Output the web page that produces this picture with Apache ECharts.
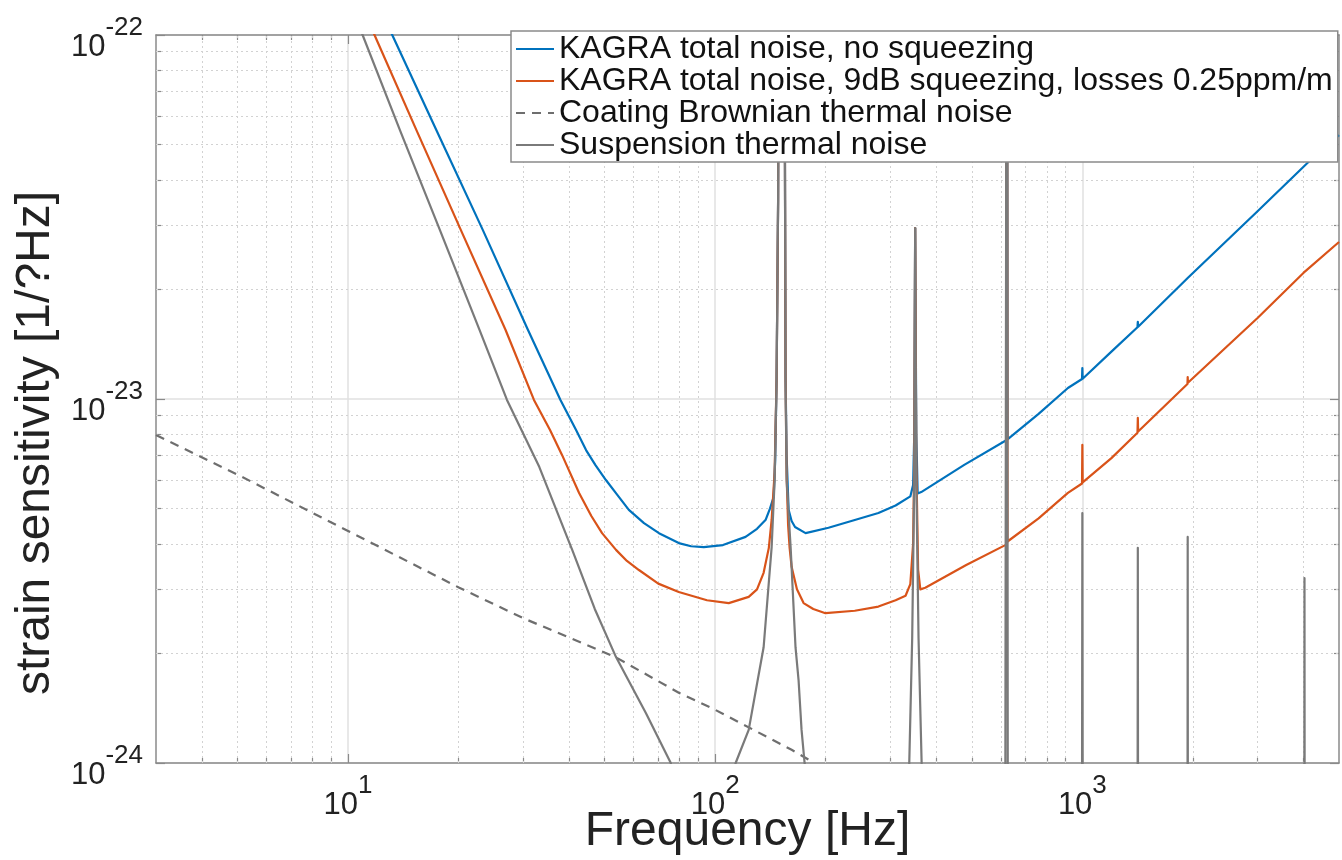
<!DOCTYPE html>
<html><head><meta charset="utf-8">
<script src="https://cdn.jsdelivr.net/npm/echarts@6/dist/echarts.min.js"></script>
<style>html,body{margin:0;padding:0;background:#fff}#c{width:1342px;height:860px}</style>
</head><body><div id="c"></div>
<script>
// ---- data: [frequency in Hz, strain sensitivity in units of 1e-24 /sqrt(Hz)] ----
const UNIT_EXP = -24;
const seriesNames = [
  'KAGRA total noise, no squeezing',
  'KAGRA total noise, 9dB squeezing, losses 0.25ppm/m',
  'Coating Brownian thermal noise',
  'Suspension thermal noise'
];
const noSqueezing = [
  [12.0,123],[13.2,100],[17.4,54.8],[23.3,29.1],[30.9,15.5],[37.9,9.94],[41.8,8.22],[44.5,7.24],
  [47.2,6.58],[50.4,5.99],[54,5.47],[58.2,4.96],[64,4.56],[70.3,4.28],[79.6,4.02],[86,3.94],
  [93.1,3.92],[105,3.97],[121,4.18],[130,4.4],[137.3,4.66],[141,5.0],[144.3,5.38],[145.7,6.8],
  [147.0,11.5],[148.4,35.2],[148.8,100],[151.7,1000],[154.6,100],[155.0,35.2],[155.5,11.5],[156.5,7.0],
  [158.5,4.96],[161.5,4.62],[165,4.45],[176.3,4.28],[203.5,4.43],[240,4.65],[278.3,4.86],[310,5.1],
  [340,5.4],[346,5.8],[348.5,8],[350.5,29.5],[353,8],[356,5.5],[364.1,5.55],[476.8,6.59],
  [620.5,7.7],[623,1000],[625.5,7.75],[760,9.1],[913.4,10.72],[998,11.35],[1000,12.16],[1002,11.37],
  [1200,13.49],[1413,15.75],[1416,16.3],[1419,15.8],[1936,21.5],[3000,32.8],[4102,44.5],[5000,53.1]
];
const squeezed9dB = [
  [11.2,112],[11.81,100],[15.36,54.8],[20.3,29.1],[26.85,15.5],[32.1,9.94],[35.5,8.22],[38.3,7.01],
  [42.6,5.52],[46,4.77],[49.2,4.28],[53.7,3.85],[57.5,3.59],[62.0,3.39],[70,3.11],[79.6,2.95],
  [95,2.8],[108.9,2.75],[123.4,2.86],[130,3.0],[135.5,3.33],[140,3.9],[142.5,4.66],[145.2,6.3],
  [147.0,11.4],[148.4,35.2],[148.8,100],[151.7,1000],[154.6,100],[155.0,35.2],[155.5,11.4],[156.5,6.2],
  [158,4.5],[159.5,3.9],[161.5,3.46],[167,3.0],[174.1,2.75],[185,2.65],[199.7,2.58],[240,2.62],
  [278.3,2.69],[310,2.8],[330,2.88],[340,3.1],[346,4.0],[348.5,6.7],[350.5,29.5],[353,6.7],
  [357,3.4],[362,3.0],[373.4,3.03],[482.7,3.5],[620.5,3.98],[623,1000],[625.5,4.06],[760,4.7],
  [913.4,5.52],[998,5.86],[1000,7.48],[1002,5.9],[1200,6.88],[1413,8.08],[1416,8.87],[1419,8.14],
  [1933,11.0],[1936,11.49],[1939,11.08],[3000,16.7],[4000,22.2],[5000,27.0]
];
const coatingBrownian = [
  [3,7.96],[5,6.2],[9.91,4.36],[20.1,3.03],[30,2.5],[53.7,1.95],[79.6,1.56],[100,1.4],
  [161.5,1.087],[180,1.02]
];
const suspensionThermal = [
  [10.5,111],[10.96,100],[13.85,54.8],[17.8,29.1],[22.8,15.5],[27.1,9.94],[33.2,6.5],[40.8,3.85],
  [47,2.65],[53.7,1.954],[64.8,1.37],[75.7,1.0],[90,0.3],[113.7,1.0],[123.4,1.233],[135.5,2.08],
  [142.5,3.92],[145.2,5.99],[147.0,11.3],[148.4,35.2],[148.8,100],[151.7,1000],[154.6,100],[155.0,35.2],
  [155.5,11.3],[156.5,5.99],[160.5,3.92],[165.5,2.08],[168.7,1.69],[171.9,1.233],[175.2,1.0],[200,0.5],
  [336,0.8],[344,2.2],[348.5,6],[350.5,29.5],[353,6],[358,2.2],[367,0.8],[616,0.3],[623,1000],[627,0.3],
  [997,0.3],[1000,4.86],[1003,0.3],[1413,0.3],[1416,3.9],[1419,0.3],[1933,0.3],[1936,4.18],[1939,0.3],
  [4020,0.3],[4027,3.22],[4034,0.3],[5000,0.3]
];
// axis ticks (y in units of 1e-24)
const xMajor = [10, 100, 1000];
const xMinor = [4,5,6,7,8,9,20,30,40,50,60,70,80,90,200,300,400,500,600,700,800,900,2000,3000,4000];
const yMajor = [1, 10, 100];
const yMinor = [2,3,4,5,6,7,8,9,20,30,40,50,60,70,80,90];

const FONT = "'Liberation Sans', Arial, Helvetica, sans-serif";
const AX = '#8a8a8a', TXT = '#222';

function powLabel(offset) {
  return function (v) {
    const l = Math.log10(v), e = Math.round(l);
    if (Math.abs(l - e) > 1e-6) return '';
    return '{b|10}{s|' + (e + offset) + '}';
  };
}
const richPow = {
  b: { fontSize: 31, fontFamily: FONT, color: TXT, lineHeight: 48, verticalAlign: 'bottom' },
  s: { fontSize: 26, fontFamily: FONT, color: TXT, lineHeight: 17, verticalAlign: 'top' }
};

function xAx(pos, minor, main) {
  return {
    type: 'log', logBase: 10, min: 3, max: 5000, position: pos,
    axisLine: { show: !minor, onZero: false, lineStyle: { color: AX, width: 1.5 } },
    axisTick: { show: true, inside: true, length: minor ? 5 : 9,
      lineStyle: { color: AX, width: 1.2 }, customValues: minor ? xMinor : xMajor },
    axisLabel: main ? { show: true, margin: 10, formatter: powLabel(0), rich: richPow, customValues: xMajor }
                    : { show: false },
    splitLine: main ? { show: true, lineStyle: { color: '#e1e1e1', width: 1.5 } } : { show: false },
    name: main ? 'Frequency [Hz]' : '', nameLocation: 'middle', nameGap: 45, nameMoveOverlap: false,
    nameTextStyle: { fontSize: 48, fontFamily: FONT, color: TXT }
  };
}
function yAx(pos, minor, main) {
  return {
    type: 'log', logBase: 10, min: 1, max: 100, position: pos,
    axisLine: { show: !minor, onZero: false, lineStyle: { color: AX, width: 1.5 } },
    axisTick: { show: true, inside: true, length: minor ? 5 : 9,
      lineStyle: { color: AX, width: 1.2 }, customValues: minor ? yMinor : yMajor },
    axisLabel: main ? { show: true, margin: 13, padding: [8, 0, 0, 0], formatter: powLabel(UNIT_EXP),
                        rich: richPow, customValues: yMajor }
                    : { show: false },
    splitLine: main ? { show: true, lineStyle: { color: '#e1e1e1', width: 1.5 } } : { show: false },
    name: main ? 'strain sensitivity [1/?Hz]' : '', nameLocation: 'middle', nameGap: 96, nameMoveOverlap: false,
    nameTextStyle: { fontSize: 48, fontFamily: FONT, color: TXT, padding: [0, 88, 0, 0] }
  };
}

const minorGridLines = xMinor.map(v => ({ xAxis: v })).concat(yMinor.map(v => ({ yAxis: v })));

function lineSeries(name, data, color, type) {
  return {
    name, type: 'line', data, xAxisIndex: 0, yAxisIndex: 0,
    symbol: 'none', showSymbol: false, clip: true, silent: true, animation: false,
    lineStyle: { color, width: 2.2, type: type || 'solid', join: 'round' },
    itemStyle: { color }, emphasis: { disabled: true }, z: 3
  };
}

const chart = echarts.init(document.getElementById('c'), null, { renderer: 'canvas' });
chart.setOption({
  animation: false,
  backgroundColor: '#fff',
  grid: { left: 156, right: 3, top: 35, bottom: 97, containLabel: false, outerBoundsMode: 'none' },
  xAxis: [xAx('bottom', false, true), xAx('top', false, false), xAx('bottom', true, false), xAx('top', true, false)],
  yAxis: [yAx('left', false, true), yAx('right', false, false), yAx('left', true, false), yAx('right', true, false)],
  legend: {
    orient: 'vertical', left: 511, top: 31, itemWidth: 38, itemHeight: 2, itemGap: 0,
    padding: [2, 5, 1, 4], backgroundColor: '#fff', borderColor: AX, borderWidth: 1.5,
    selectedMode: false, data: seriesNames,
    itemStyle: { opacity: 0 },
    textStyle: { fontSize: 32, lineHeight: 32, fontFamily: FONT, color: '#111' }
  },
  series: [
    {
      type: 'line', data: [], xAxisIndex: 0, yAxisIndex: 0, silent: true, z: 1,
      markLine: {
        silent: true, symbol: ['none', 'none'], animation: false, z: 1,
        label: { show: false }, emphasis: { disabled: true },
        lineStyle: { color: '#d2d2d2', width: 1, type: [2, 3] },
        data: minorGridLines
      }
    },
    lineSeries(seriesNames[0], noSqueezing, '#0072BD'),
    lineSeries(seriesNames[1], squeezed9dB, '#D95319'),
    lineSeries(seriesNames[2], coatingBrownian, '#6e6e6e', [9, 7]),
    lineSeries(seriesNames[3], suspensionThermal, '#7a7a7a')
  ]
});
</script></body></html>
